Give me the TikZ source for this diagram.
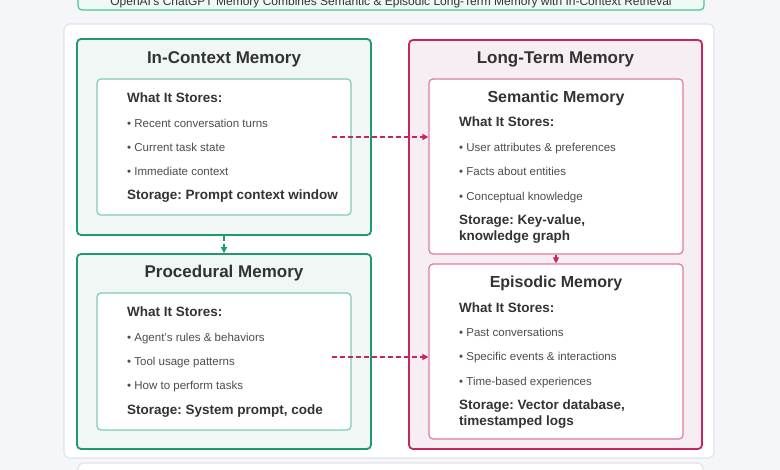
\documentclass[tikz,border=0pt]{standalone}
\usepackage{fontspec}
\setmainfont{Liberation Sans}
\usepackage{xcolor}
\usetikzlibrary{positioning, arrows.meta}
\frenchspacing
\definecolor{pagebg}{HTML}{F5F6FA}
\definecolor{framegray}{HTML}{E2E3E6}
\definecolor{ink}{HTML}{333333}
\definecolor{bulletink}{HTML}{4D4D4D}
\definecolor{ctxgreen}{HTML}{1E9B6E}
\definecolor{ctxlight}{HTML}{7FCCAE}
\definecolor{ctxfill}{HTML}{F1F7F4}
\definecolor{ltmpink}{HTML}{C8245F}
\definecolor{ltmlight}{HTML}{E07BA3}
\definecolor{ltmfill}{HTML}{F7EEF3}
\definecolor{bannerfill}{HTML}{EEF8F4}
\definecolor{bannergreen}{HTML}{4CC49A}
\tikzset{
    % Box styles
    panel/.style={rectangle, draw, rounded corners=4pt, line width=1.8pt, inner sep=0pt},
    ctx panel/.style={panel, draw=ctxgreen, fill=ctxfill},
    ltm panel/.style={panel, draw=ltmpink, fill=ltmfill},
    card/.style={rectangle, draw, rounded corners=4pt, line width=1.2pt, fill=white, inner sep=0pt,
                 minimum width=254pt},
    ctx card/.style={card, draw=ctxlight},
    ltm card/.style={card, draw=ltmlight},
    % Text styles
    heading/.style={font=\fontsize{17}{20}\selectfont\bfseries, text=ink},
    subhead/.style={font=\fontsize{13.5}{16}\selectfont\bfseries, text=ink, anchor=west, align=left,
                    inner sep=0pt, text height=1.5ex, text depth=.25ex},
    item/.style={font=\fontsize{11.5}{14}\selectfont, text=bulletink, anchor=west, inner sep=0pt,
                 text height=1.5ex, text depth=.25ex},
    % Arrow styles
    link/.style={-{Triangle[length=6pt, width=6pt]}, line width=1.3pt, ltmpink, dash pattern=on 5pt off 3pt},
}

\begin{document}
\begin{tikzpicture}[x=1pt, y=-1pt]
    \useasboundingbox (0,0) rectangle (780,470);
    \clip (0,0) rectangle (780,470);
    \fill[pagebg] (0,0) rectangle (780,470);

    % Banner and frames
    \node[rectangle, draw=bannergreen, fill=bannerfill, line width=1.2pt, rounded corners=4pt,
          minimum width=626pt, minimum height=30pt] (banner) at (391,-5) {};
    \node[font=\fontsize{12}{14}\selectfont, text=ink] (bannertxt) at (391,2)
        {OpenAI's ChatGPT Memory Combines Semantic \& Episodic Long-Term Memory with In-Context Retrieval};
    \node[rectangle, draw=framegray, fill=white, line width=1.2pt, rounded corners=6pt,
          minimum width=650pt, minimum height=434pt] (frame) at (389,241) {};
    \node[rectangle, draw=framegray, fill=white, line width=1.2pt, rounded corners=6pt,
          minimum width=625pt, minimum height=40pt] (footer) at (390.5,483) {};

    % In-context memory
    \node[ctx panel, minimum width=294pt, minimum height=196pt] (inctx) at (224,137) {};
    \node[heading] (inctxtitle) at (224,59) {In-Context Memory};
    \node[ctx card, minimum height=136pt] (inctxcard) at (224,147) {};
    \node[subhead] (inctxwhat) at (127,99) {What It Stores:};
    \node[item] (inctxa) at (127,124) {• Recent conversation turns};
    \node[item] (inctxb) at (127,148) {• Current task state};
    \node[item] (inctxc) at (127,172) {• Immediate context};
    \node[subhead] (inctxstore) at (127,196) {Storage: Prompt context window};

    % Procedural memory
    \node[ctx panel, minimum width=294pt, minimum height=195pt] (proc) at (224,351.5) {};
    \node[heading] (proctitle) at (224,273) {Procedural Memory};
    \node[ctx card, minimum height=137pt] (proccard) at (224,361.5) {};
    \node[subhead] (procwhat) at (127,313) {What It Stores:};
    \node[item] (proca) at (127,338) {• Agent's rules \& behaviors};
    \node[item] (procb) at (127,362) {• Tool usage patterns};
    \node[item] (procc) at (127,386) {• How to perform tasks};
    \node[subhead] (procstore) at (127,411) {Storage: System prompt, code};

    % Long-term memory
    \node[ltm panel, minimum width=293pt, minimum height=409pt] (ltm) at (555.5,244.5) {};
    \node[heading] (ltmtitle) at (555.5,59) {Long-Term Memory};

    % Semantic memory
    \node[ltm card, minimum height=175pt] (sem) at (556,166.5) {};
    \node[heading, font=\fontsize{16}{19}\selectfont\bfseries] (semtitle) at (556,98) {Semantic Memory};
    \node[subhead] (semwhat) at (459,123) {What It Stores:};
    \node[item] (sema) at (459,148) {• User attributes \& preferences};
    \node[item] (semb) at (459,172) {• Facts about entities};
    \node[item] (semc) at (459,197) {• Conceptual knowledge};
    \node[subhead, text height=, text depth=] (semstore) at (459,229) {Storage: Key-value,\\knowledge graph};

    % Episodic memory
    \node[ltm card, minimum height=175pt] (epi) at (556,351.5) {};
    \node[heading, font=\fontsize{16}{19}\selectfont\bfseries] (epititle) at (556,283) {Episodic Memory};
    \node[subhead] (epiwhat) at (459,309) {What It Stores:};
    \node[item] (epia) at (459,333) {• Past conversations};
    \node[item] (epib) at (459,357) {• Specific events \& interactions};
    \node[item] (epic) at (459,382) {• Time-based experiences};
    \node[subhead, text height=, text depth=] (epistore) at (459,414) {Storage: Vector database,\\timestamped logs};

    % Arrows
    \coordinate (ctxout) at (332,137);
    \coordinate (procout) at (332,357);
    \draw[link] (ctxout) -- (ctxout -| sem.west);
    \draw[link] (procout) -- (procout -| epi.west);
    \draw[link, ctxgreen] (inctx.south) -- (proc.north);
    \draw[link, solid] (sem.south) -- (epi.north);
\end{tikzpicture}
\end{document}
